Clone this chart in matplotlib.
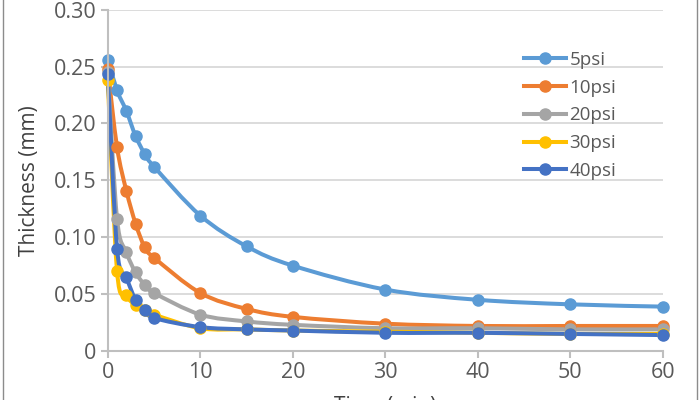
import numpy as np
import matplotlib
matplotlib.use("Agg")
import matplotlib.pyplot as plt
from matplotlib.path import Path
from matplotlib.patches import PathPatch, Rectangle
from matplotlib.lines import Line2D
from matplotlib.ticker import FuncFormatter

plt.rcParams['font.family'] = ['Open Sans', 'DejaVu Sans']

time_min = [0, 1, 2, 3, 4, 5, 10, 15, 20, 30, 40, 50, 60]
labels = ["5psi", "10psi", "20psi", "30psi", "40psi"]
psi5 = [0.256, 0.229, 0.211, 0.189, 0.173, 0.162, 0.119, 0.092, 0.075,
        0.054, 0.045, 0.041, 0.039]
psi10 = [0.248, 0.179, 0.141, 0.112, 0.091, 0.082, 0.051, 0.037, 0.030,
         0.024, 0.022, 0.022, 0.022]
psi20 = [0.245, 0.116, 0.087, 0.069, 0.058, 0.051, 0.032, 0.026, 0.023,
         0.020, 0.020, 0.019, 0.019]
psi30 = [0.238, 0.070, 0.049, 0.040, 0.036, 0.032, 0.020, 0.019, 0.018,
         0.017, 0.016, 0.015, 0.015]
psi40 = [0.243, 0.090, 0.065, 0.045, 0.036, 0.029, 0.021, 0.019, 0.018,
         0.016, 0.016, 0.015, 0.014]
series = [psi5, psi10, psi20, psi30, psi40]
colors = ["#5B9BD5", "#ED7D31", "#A5A5A5", "#FFC000", "#4472C4"]


def smooth_path(x, y):
    # Excel style smoothed line: Catmull-Rom segments as cubic Bezier
    x = np.asarray(x, float)
    y = np.asarray(y, float)
    n = len(x)
    verts = [(x[0], y[0])]
    codes = [Path.MOVETO]
    for i in range(n - 1):
        i0 = max(i - 1, 0)
        i3 = min(i + 2, n - 1)
        c1 = (x[i] + (x[i + 1] - x[i0]) / 6, y[i] + (y[i + 1] - y[i0]) / 6)
        c2 = (x[i + 1] - (x[i3] - x[i]) / 6, y[i + 1] - (y[i3] - y[i]) / 6)
        verts += [c1, c2, (x[i + 1], y[i + 1])]
        codes += [Path.CURVE4] * 3
    return Path(verts, codes)


fig = plt.figure(figsize=(7, 4), dpi=100)
ax = fig.add_axes([0.154, 0.1225, 0.793, 0.8535])

for vals, col, lab in zip(series, colors, labels):
    patch = PathPatch(smooth_path(time_min, vals), facecolor="none",
                      edgecolor=col, lw=2.9, capstyle="round",
                      joinstyle="round", clip_on=False)
    ax.add_patch(patch)
    ax.plot(time_min, vals, "o", color=col, ms=8, clip_on=False,
            zorder=patch.get_zorder() + 0.01)

ax.set_xlim(0, 60)
ax.set_ylim(0, 0.30)
ax.set_xticks(np.arange(0, 61, 10))
ax.set_yticks(np.arange(0, 0.301, 0.05))
ax.yaxis.set_major_formatter(
    FuncFormatter(lambda v, p: "0" if abs(v) < 1e-9 else f"{v:.2f}"))
ax.grid(axis="y", color="#D9D9D9", lw=1.3)
ax.set_axisbelow(True)
for s in ["top", "right"]:
    ax.spines[s].set_visible(False)
for s in ["left", "bottom"]:
    ax.spines[s].set_color("#BFBFBF")
    ax.spines[s].set_linewidth(1.5)
ax.tick_params(colors="#BFBFBF", labelcolor="#595959", labelsize=15.5,
               length=5, width=1.5, pad=3)
ax.set_xlabel("Time (min)", fontsize=15, color="#404040", labelpad=9)
ax.set_ylabel("Thickness (mm)", fontsize=15, color="#404040", labelpad=10)

handles = [Line2D([], [], color=c, lw=2.9, marker="o", ms=8)
           for c in colors]
ax.legend(handles, labels, loc="upper left", bbox_to_anchor=(0.725, 0.915),
          bbox_transform=fig.transFigure, frameon=False, fontsize=13.5,
          handlelength=2.2, handletextpad=0.2, labelspacing=0.52,
          labelcolor="#595959")

fig.patches.append(Rectangle((3 / 700, -0.1), 694 / 700, 1.2, fill=False,
                             edgecolor="#8C8C8C", lw=1,
                             transform=fig.transFigure))
fig.savefig("out.png", dpi=100)
